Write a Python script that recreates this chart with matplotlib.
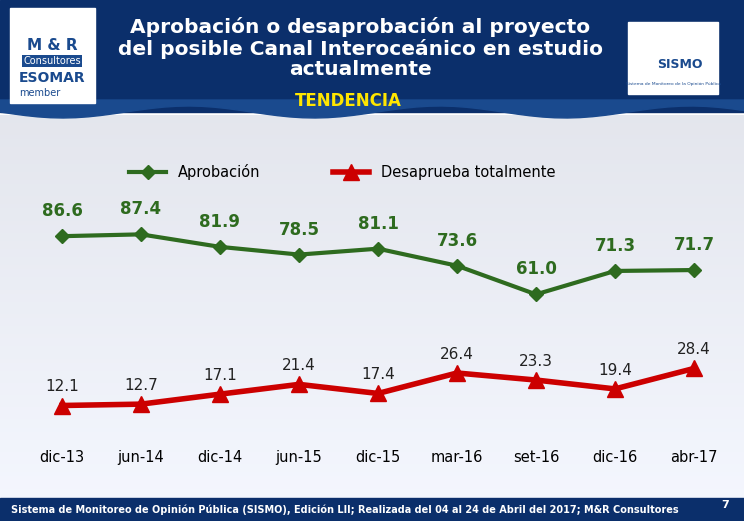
import matplotlib.pyplot as plt
import numpy as np
from matplotlib.patches import Rectangle, Polygon

periods = ["dic-13", "jun-14", "dic-14", "jun-15", "dic-15", "mar-16", "set-16", "dic-16", "abr-17"]
aprobacion = [86.6, 87.4, 81.9, 78.5, 81.1, 73.6, 61.0, 71.3, 71.7]
desaprueba = [12.1, 12.7, 17.1, 21.4, 17.4, 26.4, 23.3, 19.4, 28.4]

W, H = 744, 521
fig = plt.figure(figsize=(W / 100, H / 100), dpi=100)

# fondo y marco en coordenadas de pixel
bg = fig.add_axes([0, 0, 1, 1])
bg.set_xlim(0, W)
bg.set_ylim(H, 0)
bg.axis("off")
grad = np.linspace(0.93, 1.0, 100).reshape(-1, 1)
bg.imshow(np.dstack([grad * 0.96, grad * 0.97, grad]), extent=[0, W, H, 115], aspect="auto", zorder=0)
bg.add_patch(Rectangle((0, 0), W, 112, color="#0b2f6b", zorder=1))
xs = np.linspace(0, W, 60)
wave = 112 + 6 * np.sin(xs / 40)
bg.add_patch(Polygon(list(zip(xs, wave)) + [(W, 100), (0, 100)], color="#1a4a8e", zorder=1))
bg.add_patch(Rectangle((0, 498), W, 23, color="#0b2f6b", zorder=1))
bg.text(360, 48, "Aprobación o desaprobación al proyecto\ndel posible Canal Interoceánico en estudio\nactualmente",
        color="white", fontsize=14.5, fontweight="bold", ha="center", va="center", linespacing=1.12, zorder=2)
bg.text(348, 101, "TENDENCIA", color="#ffe600", fontsize=12, fontweight="bold", ha="center", va="center", zorder=2)
# logos aproximados
bg.add_patch(Rectangle((10, 8), 85, 95, color="white", zorder=2))
bg.text(52, 50, "M & R", color="#1a4a8e", fontsize=11, fontweight="bold", ha="center", zorder=3)
bg.text(52, 64, "Consultores", color="white", fontsize=7, ha="center", zorder=3,
        bbox=dict(facecolor="#1a4a8e", edgecolor="none", pad=1))
bg.text(52, 82, "ESOMAR", color="#1a4a8e", fontsize=10, fontweight="bold", ha="center", zorder=3)
bg.text(40, 96, "member", color="#1a4a8e", fontsize=7, ha="center", zorder=3)
bg.add_patch(Rectangle((628, 22), 90, 72, color="white", zorder=2))
bg.text(680, 68, "SISMO", color="#1a4a8e", fontsize=9, fontweight="bold", ha="center", zorder=3)
bg.text(673, 85, "Sistema de Monitoreo de la Opinión Pública", color="#1a4a8e", fontsize=3.2, ha="center", zorder=3)
bg.text(345, 510, "Sistema de Monitoreo de Opinión Pública (SISMO), Edición LII; Realizada del 04 al 24 de Abril del 2017; M&R Consultores",
        color="white", fontsize=7, fontweight="bold", ha="center", va="center", zorder=2)
bg.text(725, 505, "7", color="white", fontsize=8, fontweight="bold", ha="center", va="center", zorder=2)

# grafico
ax = fig.add_axes([22.5 / W, 1 - 433 / H, 711 / W, 250 / H])
ax.patch.set_alpha(0)
x = np.arange(len(periods))
green = "#2e6b1f"
red = "#cc0000"
ax.plot(x, aprobacion, color=green, lw=3, marker="D", ms=7, label="Aprobación")
ax.plot(x, desaprueba, color=red, lw=4, marker="^", ms=11, label="Desaprueba totalmente")
for i in x:
    ax.text(i, aprobacion[i] + 7, f"{aprobacion[i]:.1f}", ha="center", va="bottom", fontsize=12, fontweight="bold", color=green)
    ax.text(i, desaprueba[i] + 5, f"{desaprueba[i]:.1f}", ha="center", va="bottom", fontsize=11, color="#222222")
ax.set_xlim(-0.5, 8.5)
ax.set_ylim(0, 110)
ax.set_yticks([])
ax.set_xticks(x)
ax.set_xticklabels(periods, fontsize=10.5)
ax.tick_params(axis="x", length=0, pad=12)
for s in ["top", "right", "left", "bottom"]:
    ax.spines[s].set_visible(False)
ax.legend(loc="upper center", bbox_to_anchor=(0.45, 1.13), ncol=2, frameon=False, fontsize=10.5,
          columnspacing=5, handlelength=2.5)

fig.savefig("out.png", dpi=100)
